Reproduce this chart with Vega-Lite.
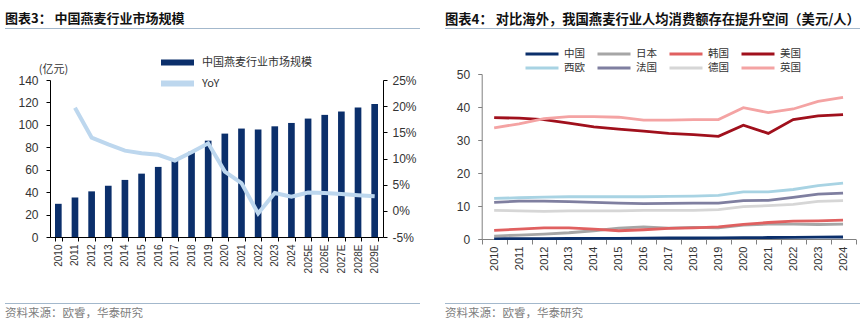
{
  "$schema": "https://vega.github.io/schema/vega-lite/v6.json",
  "padding": {"left": 0, "top": 12, "right": 0, "bottom": 0},
  "columns": 2,
  "spacing": {"row": 12, "column": 19},
  "resolve": {"scale": {"color": "independent"}, "legend": {"color": "independent"}},
  "datasets": {
    "market": [
      {"year": "2010", "size": 29.6, "yoy": null},
      {"year": "2011", "size": 35.3, "yoy": 19.7},
      {"year": "2012", "size": 40.7, "yoy": 14.0},
      {"year": "2013", "size": 45.8, "yoy": 12.7},
      {"year": "2014", "size": 50.9, "yoy": 11.5},
      {"year": "2015", "size": 56.5, "yoy": 11.0},
      {"year": "2016", "size": 62.5, "yoy": 10.7},
      {"year": "2017", "size": 68.5, "yoy": 9.6},
      {"year": "2018", "size": 76.0, "yoy": 11.2},
      {"year": "2019", "size": 85.9, "yoy": 12.9},
      {"year": "2020", "size": 92.2, "yoy": 7.5},
      {"year": "2021", "size": 96.7, "yoy": 5.3},
      {"year": "2022", "size": 95.8, "yoy": -0.5},
      {"year": "2023", "size": 98.7, "yoy": 3.4},
      {"year": "2024", "size": 101.7, "yoy": 2.7},
      {"year": "2025E", "size": 105.6, "yoy": 3.5},
      {"year": "2026E", "size": 108.9, "yoy": 3.4},
      {"year": "2027E", "size": 111.9, "yoy": 3.2},
      {"year": "2028E", "size": 115.5, "yoy": 3.0},
      {"year": "2029E", "size": 118.5, "yoy": 2.8}
    ],
    "percap": [
      {"year": "2010", "中国": 0.1, "日本": 0.9, "韩国": 2.6, "美国": 36.8, "西欧": 12.3, "法国": 11.1, "德国": 8.7, "英国": 33.7},
      {"year": "2011", "中国": 0.1, "日本": 1.2, "韩国": 3.0, "美国": 36.6, "西欧": 12.5, "法国": 11.5, "德国": 8.5, "英国": 34.9},
      {"year": "2012", "中国": 0.1, "日本": 1.5, "韩国": 3.4, "美国": 36.2, "西欧": 12.7, "法国": 11.5, "德国": 8.4, "英国": 36.5},
      {"year": "2013", "中国": 0.15, "日本": 1.9, "韩国": 3.4, "美国": 35.1, "西欧": 12.8, "法国": 11.3, "德国": 8.5, "英国": 37.1},
      {"year": "2014", "中国": 0.2, "日本": 2.5, "韩国": 3.0, "美国": 34.0, "西欧": 12.8, "法国": 11.1, "德国": 8.5, "英国": 37.1},
      {"year": "2015", "中国": 0.2, "日本": 3.3, "韩国": 2.5, "美国": 33.3, "西欧": 12.8, "法国": 10.9, "德国": 8.5, "英国": 36.9},
      {"year": "2016", "中国": 0.25, "日本": 3.7, "韩国": 2.8, "美国": 32.7, "西欧": 12.8, "法国": 10.7, "德国": 8.7, "英国": 36.0},
      {"year": "2017", "中国": 0.3, "日本": 3.3, "韩国": 3.2, "美国": 32.0, "西欧": 12.9, "法国": 10.8, "德国": 8.7, "英国": 36.0},
      {"year": "2018", "中国": 0.3, "日本": 3.5, "韩国": 3.4, "美国": 31.6, "西欧": 13.0, "法国": 10.9, "德国": 8.7, "英国": 36.2},
      {"year": "2019", "中国": 0.35, "日本": 3.4, "韩国": 3.7, "美国": 31.1, "西欧": 13.2, "法国": 10.9, "德国": 8.9, "英国": 36.2},
      {"year": "2020", "中国": 0.4, "日本": 4.2, "韩国": 4.4, "美国": 34.5, "西欧": 14.3, "法国": 11.6, "德国": 9.8, "英国": 39.8},
      {"year": "2021", "中国": 0.45, "日本": 4.5, "韩国": 5.0, "美国": 32.0, "西欧": 14.3, "法国": 11.7, "德国": 10.1, "英国": 38.3},
      {"year": "2022", "中国": 0.5, "日本": 4.5, "韩国": 5.4, "美国": 36.2, "西欧": 15.0, "法国": 12.6, "德国": 10.5, "英国": 39.4},
      {"year": "2023", "中国": 0.55, "日本": 4.4, "韩国": 5.5, "美国": 37.3, "西欧": 16.2, "法国": 13.6, "德国": 11.4, "英国": 41.7},
      {"year": "2024", "中国": 0.6, "日本": 4.5, "韩国": 5.7, "美国": 37.7, "西欧": 16.9, "法国": 13.9, "德国": 11.6, "英国": 42.9}
    ]
  },
  "concat": [
    {
      "width": 415, "height": 1,
      "data": {"values": [{"t": ""}]},
      "mark": {"type": "text", "fontSize": 0.1},
      "encoding": {"text": {"field": "t"}},
      "view": {"fill": "#a3b8cc", "stroke": null},
      "title": {"text": "图表3：  中国燕麦行业市场规模", "anchor": "start", "frame": "group", "fontSize": 13, "fontWeight": "bold", "offset": 2, "color": "#111111", "font": "Noto Sans CJK SC"}
    },
    {
      "width": 415, "height": 1,
      "data": {"values": [{"t": ""}]},
      "mark": {"type": "text", "fontSize": 0.1},
      "encoding": {"text": {"field": "t"}},
      "view": {"fill": "#a3b8cc", "stroke": null},
      "title": {"text": "图表4：  对比海外，我国燕麦行业人均消费额存在提升空间（美元/人）", "anchor": "start", "frame": "group", "fontSize": 13.3, "fontWeight": "bold", "offset": 2, "color": "#111111", "font": "Noto Sans CJK SC"}
    },
    {
      "width": 415, "height": 196,
      "data": {"name": "market"},
      "encoding": {
        "x": {
          "field": "year", "type": "ordinal", "sort": null,
          "scale": {"type": "band", "range": [45, 378], "paddingInner": 0.6, "paddingOuter": 0.3},
          "axis": {"title": " ", "titlePadding": 8, "titleFontSize": 10, "labelAngle": -90, "tickBand": "extent", "domainColor": "#000000", "tickColor": "#000000", "tickSize": 4, "labelFontSize": 10, "labelColor": "#333333", "labelPadding": 3, "labelFont": "Liberation Sans"}
        }
      },
      "layer": [
        {
          "mark": {"type": "bar"},
          "encoding": {
            "y": {
              "field": "size", "type": "quantitative",
              "scale": {"domain": [0, 140], "range": [196, 39], "nice": false},
              "axis": {"orient": "left", "offset": -45, "values": [0, 20, 40, 60, 80, 100, 120, 140], "grid": false, "tickSize": 4, "domainColor": "#000000", "tickColor": "#000000", "labelFontSize": 12, "labelColor": "#333333", "labelPadding": 8, "labelFont": "Liberation Sans",
                "title": "(亿元)", "titleAngle": 0, "titleAlign": "center", "titleBaseline": "middle", "titleX": 3, "titleY": 28, "titleFontSize": 11, "titleFontWeight": "normal", "titleColor": "#333333", "titleFont": "Noto Sans CJK SC"}
            },
            "color": {
              "datum": "中国燕麦行业市场规模", "type": "nominal",
              "scale": {"domain": ["中国燕麦行业市场规模", "YoY"], "range": ["#0b2f6b", "#bdd7ee"]},
              "legend": {"orient": "none", "legendX": 164, "legendY": 13, "title": null, "symbolType": "M-3,0L3,0", "symbolSize": 121, "symbolStrokeWidth": 6, "labelFontSize": 11, "labelColor": "#333333", "labelFont": "Noto Sans CJK SC", "labelOffset": 16, "rowPadding": -5,
                "encode": {"symbols": {"update": {"stroke": {"scale": "color", "field": "value"}, "strokeWidth": {"value": 6}, "fill": {"value": "transparent"}}}}}
            }
          }
        },
        {
          "mark": {"type": "line", "strokeWidth": 4},
          "encoding": {
            "y": {
              "field": "yoy", "type": "quantitative",
              "scale": {"domain": [-5, 25], "range": [196, 39], "nice": false, "zero": false},
              "axis": {"orient": "right", "offset": -37, "values": [-5, 0, 5, 10, 15, 20, 25], "labelExpr": "datum.value + '%'", "grid": false, "tickSize": 4, "domainColor": "#000000", "tickColor": "#000000", "labelFontSize": 12, "labelColor": "#333333", "labelPadding": 5, "labelFont": "Liberation Sans", "title": null}
            },
            "color": {"datum": "YoY", "type": "nominal"}
          }
        }
      ],
      "resolve": {"scale": {"y": "independent"}}
    },
    {
      "width": 415, "height": 198,
      "data": {"name": "percap"},
      "transform": [{"fold": ["中国", "日本", "韩国", "美国", "西欧", "法国", "德国", "英国"], "as": ["country", "value"]}],
      "mark": {"type": "line", "strokeWidth": 2.8},
      "encoding": {
        "x": {
          "field": "year", "type": "ordinal", "sort": null, "bandPosition": 0.5,
          "scale": {"type": "band", "range": [36.7, 410.5], "paddingInner": 0, "paddingOuter": 0},
          "axis": {"title": null, "labelAngle": -90, "tickBand": "extent", "domainColor": "#808080", "tickColor": "#808080", "tickSize": 5, "labelFontSize": 11, "labelColor": "#333333", "labelPadding": 2, "labelFont": "Liberation Sans"}
        },
        "y": {
          "field": "value", "type": "quantitative",
          "scale": {"domain": [0, 50], "range": [198, 33], "nice": false},
          "axis": {"orient": "left", "offset": -36.7, "values": [0, 10, 20, 30, 40, 50], "grid": false, "tickSize": 4, "domainColor": "#808080", "tickColor": "#808080", "labelFontSize": 12, "labelColor": "#333333", "labelPadding": 8, "labelFont": "Liberation Sans", "title": null}
        },
        "color": {
          "field": "country", "type": "nominal",
          "scale": {"domain": ["中国", "日本", "韩国", "美国", "西欧", "法国", "德国", "英国"], "range": ["#0b2f6b", "#a6a6a6", "#e06060", "#a0101c", "#a8d3e3", "#7f7fa0", "#d6d6d6", "#f4a3a3"]},
          "legend": {"orient": "none", "legendX": 90, "legendY": 6, "title": null, "direction": "horizontal", "columns": 4, "symbolType": "M-3,0L3,0", "symbolSize": 121, "symbolStrokeWidth": 3, "labelFontSize": 10.5, "labelColor": "#333333", "labelFont": "Noto Sans CJK SC", "labelOffset": 15, "columnPadding": 6, "rowPadding": 1}
        }
      }
    },
    {
      "width": 415, "height": 1,
      "data": {"values": [{"t": ""}]},
      "mark": {"type": "text", "fontSize": 0.1},
      "encoding": {"text": {"field": "t"}},
      "view": {"fill": "#a3b8cc", "stroke": null},
      "title": {"text": "资料来源：欧睿，华泰研究", "orient": "bottom", "anchor": "start", "frame": "group", "fontSize": 11.5, "fontWeight": "normal", "offset": 4, "color": "#808080", "font": "Noto Sans CJK SC"}
    },
    {
      "width": 415, "height": 1,
      "data": {"values": [{"t": ""}]},
      "mark": {"type": "text", "fontSize": 0.1},
      "encoding": {"text": {"field": "t"}},
      "view": {"fill": "#a3b8cc", "stroke": null},
      "title": {"text": "资料来源：欧睿，华泰研究", "orient": "bottom", "anchor": "start", "frame": "group", "fontSize": 11.5, "fontWeight": "normal", "offset": 4, "color": "#808080", "font": "Noto Sans CJK SC"}
    }
  ],
  "config": {
    "view": {"stroke": null},
    "font": "Noto Sans CJK SC",
    "background": "#ffffff"
  }
}
